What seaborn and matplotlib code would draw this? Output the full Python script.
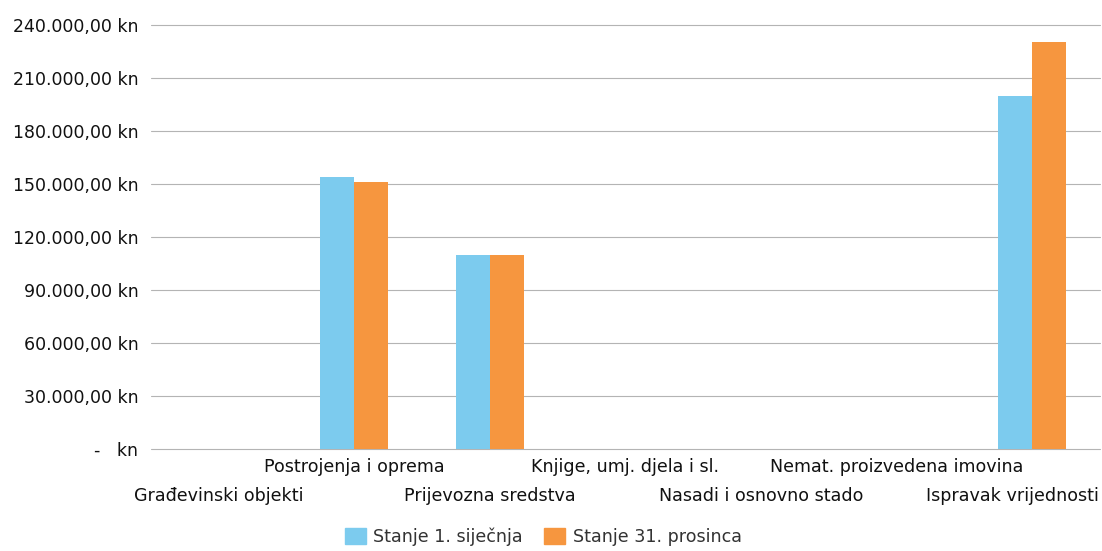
import numpy as np
import pandas as pd
import matplotlib
matplotlib.use("Agg")
import matplotlib.pyplot as plt
from matplotlib.ticker import FuncFormatter
from matplotlib.transforms import ScaledTranslation
import seaborn as sns

# data (kn)
categories = ["Građevinski objekti", "Postrojenja i oprema", "Prijevozna sredstva",
              "Knjige, umj. djela i sl.", "Nasadi i osnovno stado",
              "Nemat. proizvedena imovina", "Ispravak vrijednosti"]
stanje_sijecanj = [0, 154000, 110000, 0, 0, 0, 200000]
stanje_prosinac = [0, 151000, 110000, 0, 0, 0, 230000]
series_names = ["Stanje 1. siječnja", "Stanje 31. prosinca"]
colors = ["#7ccbee", "#f6963f"]

df = pd.DataFrame({
    "kategorija": categories * 2,
    "iznos": stanje_sijecanj + stanje_prosinac,
    "stanje": [series_names[0]] * len(categories) + [series_names[1]] * len(categories),
})

sns.set_style("white")
plt.rcParams["font.family"] = ["DejaVu Sans"]

fig = plt.figure(figsize=(11.02, 5.51), dpi=100)
ax = fig.add_axes([0.137, 0.185, 0.861, 0.77])

sns.barplot(data=df, x="kategorija", y="iznos", hue="stanje", order=categories,
            hue_order=series_names, palette=colors, width=0.5, saturation=1,
            linewidth=0, ax=ax, legend=False)

ax.set_ylim(0, 240000)
ax.set_xlim(-0.5, len(categories) - 0.5)
ax.set_yticks(np.arange(0, 240001, 30000))
ax.yaxis.grid(True, color="#b4b4b4", linewidth=0.8)
ax.set_axisbelow(True)
for gl in ax.get_ygridlines():
    gl.set_clip_on(False)
for s in ax.spines.values():
    s.set_visible(False)


def kn(v, pos):
    if v == 0:
        return "-   kn"
    txt = f"{v:,.2f}".replace(",", " ").replace(".", ",").replace(" ", ".")
    return txt + " kn"


ax.yaxis.set_major_formatter(FuncFormatter(kn))
ax.tick_params(axis="y", length=0, pad=9, labelsize=12.5, labelcolor="#111111")

# labels alternate between two rows, like the original
ax.set_xticks(range(len(categories)))
ax.set_xticklabels(categories, fontsize=12.6, color="#111111")
ax.tick_params(axis="x", length=0)
for i, tick in enumerate(ax.xaxis.get_major_ticks()):
    tick.set_pad(27 if i % 2 == 0 else 6.5)
# last label is pushed left so it stays inside the picture
last = ax.get_xticklabels()[-1]
last.set_transform(last.get_transform() + ScaledTranslation(-0.2, 0, fig.dpi_scale_trans))
ax.set_xlabel("")
ax.set_ylabel("")

handles = [plt.Rectangle((0, 0), 1, 1, color=c) for c in colors]
fig.legend(handles, series_names, loc="center", bbox_to_anchor=(0.493, 0.026),
           ncol=2, frameon=False, fontsize=12.6, handlelength=1.2, handleheight=1.1,
           handletextpad=0.45, columnspacing=1.2, labelcolor="#333333")

fig.savefig("out.png", dpi=100)
